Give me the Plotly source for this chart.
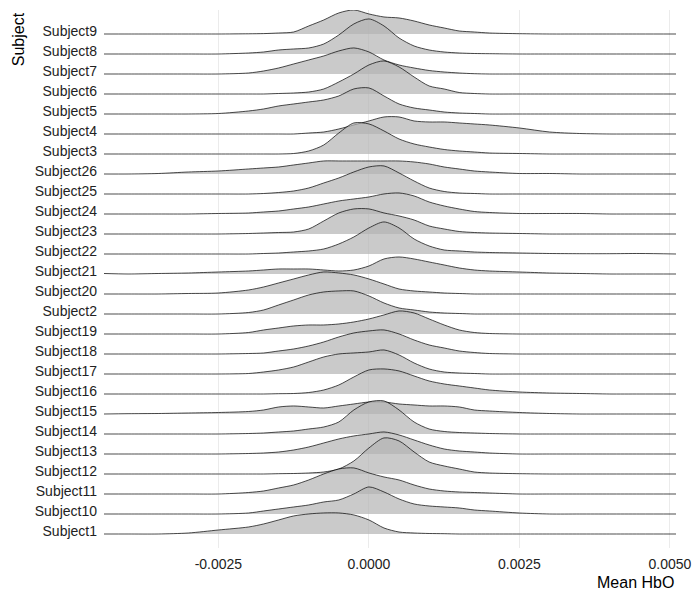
import plotly.graph_objects as go

# x positions (Mean HbO) at which the ridge heights were read
x_grid = [-0.0044, -0.004, -0.0035, -0.003, -0.0025, -0.002, -0.00175, -0.0015,
          -0.00125, -0.001, -0.00075, -0.0005, -0.00025, 0.0, 0.00025, 0.0005,
          0.00075, 0.001, 0.00125, 0.0015, 0.00175, 0.002, 0.0025, 0.003,
          0.0035, 0.004, 0.0045, 0.0051]

# ridge heights (pixels; one row = ~20 px)
s1  = [0,0,0,1,4,7,10,14,18,20,21,21,19,14,6,2,1,0.5,0.3,0,0,0,0,0,0,0,0,0]
s10 = [0,0,0,0,0,1,3,5,7,9,12,14,20,27,22,15,10,8,7,6,4,3,1,0,0,0,0,0]
s11 = [0,0,0,0,0,1.5,3,6,9,14,20,25,26,21,17,14,9,5,3,2,1.5,1,0,0,0,0,0,0]
s12 = [0,0,0,0,0,0,0,0.3,0.5,1,2,5,13,26,36,33,22,12,8,5,2,1,0.3,0,0,0,0,0]
s13 = [0,0,0,0,0,0.5,1,2,4,7,11,15,18,20,22,19,14,9,5,3,2,1,0,0,0,0,0,0]
s14 = [0,0,0,0,0,0.5,1,2,3,5,7,12,24,32,33,24,12,5,2.5,1.5,1,0.5,0,0,0,0,0,0]
s15 = [0,0.3,0.5,1,1.5,2.5,4,7,8,7,6,8,10,12,12,10,9,8,8,7,4,3,1.5,0.5,0,0,0,0]
s16 = [0,0,0,0,0,0,0,0.3,0.5,1.5,4,9,17,24,25,23,18,13,10,8,6,4,2,1,0.5,0,0,0]
s17 = [0,0,0,0,0,0.5,2,4,7,12,17,20,21,22,24,19,11,5,2,1,0.5,0,0,0,0,0,0,0]
s18 = [0,0,0,0,0,0.5,1,3,5,8,12,17,21,23,24,20,14,9,6,3,1.5,0.5,0,0,0,0,0,0]
s19 = [0,0,0,0,0,1.5,4,6,8,9,9,10,12,15,19,23,21,15,9,4,1.5,0.5,0,0,0,0,0,0]
s2  = [0,0,0,0,0,1.5,4,9,14,19,22,23,23,18,11,6,4,2,1,0.5,0,0,0,0,0,0,0,0]
s20 = [0,0,0,0.5,1,4,7,11,15,19,22,21,19,15,10,5,3,2,1,0.5,0,0,0,0,0,0,0,0]
s21 = [0.5,0,0.5,1,2,3,4,5,5,5,4,3,4,8,15,17,15,12,9,6,4,3,2,1,0.5,0,0,0]
s22 = [0,0,0,0,0,0,0.5,1,2,3,5,10,17,26,32,26,15,8,4,3,2,1.5,1,0.5,0.3,0.3,0.5,0]
s23 = [0,0,0,0,0,0.5,1,1.5,2,5,13,21,25,25,21,18,14,8,5,2.5,1.5,1,0.5,0,0,0,0,0]
s24 = [0,0,0,0,0.5,1,2,3,5,7,10,13,15,17,20,21,18,12,8,5,2.5,1.5,0.5,0.5,0.5,0,0,0]
s25 = [0,0,0,0,0,0,0.5,1.5,3,6,11,16,22,27,28,21,13,6,2.5,1,0.5,0,0,0,0,0,0,0]
s26 = [0,0,0.5,2,3,5,6,7,9,11,13,13,13,13,13,13,12,10,7,5,3,2,0.5,0.5,0,0,0,0]
s3  = [0,0,0,0,0,0,0,0,0.5,3,9,21,31,30,23,15,10,7,4.5,3,2,1,0.5,0,0,0,0,0]
s4  = [0,0,0,0,0,0,0,0,0,1,2,5,9,13,17,17,13,12,12,11,10,9,6,2,0.5,0,0,0]
s5  = [0,0,0,0,0.5,3,5,8,10,12,14,18,25,26,18,10,6,4,2,1,0.5,0,0,0,0,0,0,0]
s6  = [0,0,0,0,0,0,0,0.5,1,2,5,12,20,29,33,27,17,8,5,1.5,0.5,0,0,0,0,0,0,0]
s7  = [0,0,0,0,0,1,3,6,10,14,18,23,26,22,14,9,6,3.5,2,1,0.3,0,0,0,0,0,0,0]
s8  = [0,0,0,0,0,1,2,4,5,6,10,19,30,35,28,16,8,4,2,1,0.5,0.3,0,0,0,0,0,0]
s9  = [0,0,0,0,0,0.2,0.4,1,2,8,14,21,24,20,17,16,13,9,6,3,2,1,0.3,0,0,0,0,0]

# subjects from bottom row to top row (alphabetical order)
subjects = ["Subject1", "Subject10", "Subject11", "Subject12", "Subject13",
            "Subject14", "Subject15", "Subject16", "Subject17", "Subject18",
            "Subject19", "Subject2", "Subject20", "Subject21", "Subject22",
            "Subject23", "Subject24", "Subject25", "Subject26", "Subject3",
            "Subject4", "Subject5", "Subject6", "Subject7", "Subject8", "Subject9"]
heights = [s1, s10, s11, s12, s13, s14, s15, s16, s17, s18, s19, s2, s20,
           s21, s22, s23, s24, s25, s26, s3, s4, s5, s6, s7, s8, s9]

x_ticks = [-0.0025, 0.0, 0.0025, 0.005]
x_ticktext = ["-0.0025", "0.0000", "0.0025", "0.0050"]

ROW_PX = 19.96
FILL = "rgba(179,179,179,0.7)"

fig = go.Figure()
# draw from top row to bottom row so lower ridges sit in front
for i in range(len(subjects) - 1, -1, -1):
    h = heights[i]
    fig.add_trace(go.Scatter(x=x_grid, y=[i] * len(x_grid), mode="lines",
                             line=dict(width=0, color=FILL), hoverinfo="skip",
                             showlegend=False))
    fig.add_trace(go.Scatter(x=x_grid, y=[i + v / ROW_PX for v in h], mode="lines",
                             line=dict(color="black", width=0.7, shape="spline", smoothing=0.8),
                             fill="tonexty", fillcolor=FILL, name=subjects[i],
                             showlegend=False))

font_family = "Liberation Sans, Arial, sans-serif"
fig.update_layout(
    width=693, height=597,
    margin=dict(l=104, r=17, t=10, b=49),
    paper_bgcolor="white", plot_bgcolor="white",
    font=dict(family=font_family, size=14, color="#222"),
    xaxis=dict(range=[-0.0044, 0.0051], tickvals=x_ticks, ticktext=x_ticktext,
               showgrid=True, gridcolor="#EBEBEB", gridwidth=1, zeroline=False,
               showline=False, ticks="", ticklabelstandoff=6, automargin=False,
               tickfont=dict(size=14, color="#222")),
    yaxis=dict(range=[-0.7, 26.2], tickvals=list(range(len(subjects))), ticktext=subjects,
               showgrid=False, zeroline=False, showline=False, ticks="",
               ticklabelstandoff=6, ticklabelshift=-3, automargin=False,
               tickfont=dict(size=14, color="#222")),
    annotations=[
        dict(text="Subject", textangle=-90, xref="paper", yref="paper",
             x=-0.150, y=1.0, xanchor="center", yanchor="top", showarrow=False,
             font=dict(size=16, color="black", family=font_family)),
        dict(text="Mean HbO", xref="paper", yref="paper", x=1.0, y=-0.065,
             xanchor="right", yanchor="middle", showarrow=False,
             font=dict(size=16, color="black", family=font_family)),
    ],
)

# remove the default page margin so the 693x597 figure fills the window exactly
fig.write_html("out.html", config={"displayModeBar": False},
               post_script="document.body.style.margin='0';")
